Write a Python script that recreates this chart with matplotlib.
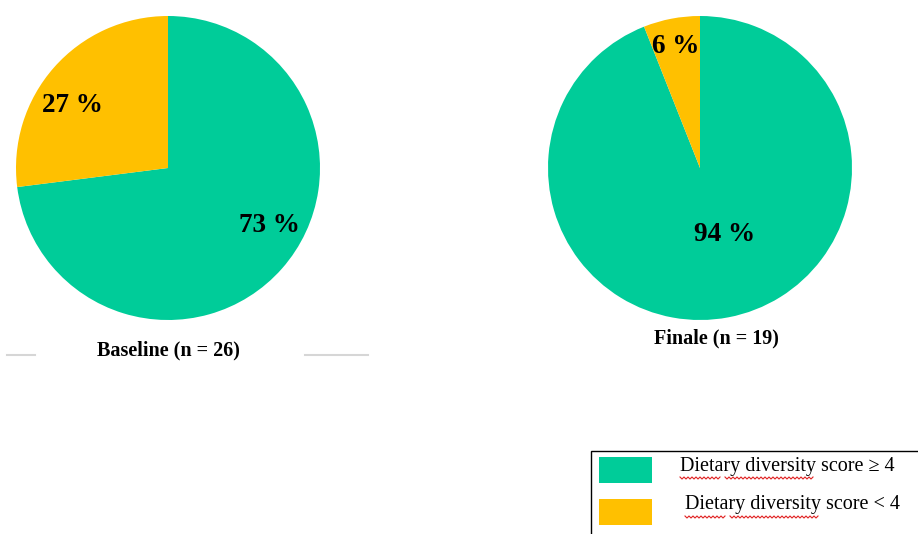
import matplotlib.pyplot as plt
from matplotlib.patches import Rectangle
from matplotlib.lines import Line2D
import numpy as np

# data
categories = ["Dietary diversity score \u2265 4", "Dietary diversity score < 4"]
baseline = [73, 27]
finale = [94, 6]
titles = ["Baseline (n = 26)", "Finale (n = 19)"]
colors = ["#00CC99", "#FFC000"]

W, H = 918, 534
fig = plt.figure(figsize=(W / 100, H / 100), dpi=100)
plt.rcParams['font.family'] = ['Liberation Serif', 'DejaVu Serif']


def box(x0, y0, w, h):
    # pixel box (top-left origin) -> figure fraction
    return [x0 / W, 1 - (y0 + h) / H, w / W, h / H]


def fx(x):
    return x / W


def fy(y):
    return 1 - y / H


def pie(rect, values, label_pos):
    ax = fig.add_axes(rect)
    ax.pie(values, colors=colors, startangle=90, counterclock=False,
           radius=1, wedgeprops=dict(linewidth=0))
    ax.set_xlim(-1, 1)
    ax.set_ylim(-1, 1)
    ax.set_aspect('equal')
    ax.axis('off')
    for v, (x, y) in zip(values, label_pos):
        ax.text(x, y, f"{v} %", ha='center', va='center', fontsize=19.5,
                fontweight='bold', color='black')
    return ax


pie(box(16, 16, 304, 304), baseline, [(0.67, -0.375), (-0.63, 0.41)])
pie(box(548, 16, 304, 304), finale, [(0.16, -0.44), (-0.16, 0.80)])

fig.text(fx(168), fy(350), titles[0], ha='center', va='center',
         fontsize=14.5, fontweight='bold')
fig.text(fx(716), fy(338), titles[1], ha='center', va='center',
         fontsize=14.5, fontweight='bold')

# faint lines next to baseline title
for x0, x1 in [(7, 35), (305, 368)]:
    fig.add_artist(Line2D([fx(x0), fx(x1)], [fy(355), fy(355)],
                          color='#d6d6d6', lw=1.5))

# legend box
fig.add_artist(Rectangle((fx(591), fy(560)), fx(400), fy(451) - fy(560),
                         transform=fig.transFigure, facecolor='none',
                         edgecolor='black', lw=1.0))
sw_y = [457, 499]
txt = [(680, 467), (685, 505)]
for c, lab, sy, (tx, ty) in zip(colors, categories, sw_y, txt):
    fig.add_artist(Rectangle((fx(599), fy(sy + 26)), fx(53), fy(sy) - fy(sy + 26),
                             transform=fig.transFigure, facecolor=c,
                             edgecolor='none'))
    fig.text(fx(tx), fy(ty), lab, ha='left', va='center', fontsize=14.5)

# spell-check squiggles under "Dietary" and "diversity"
for segs, yy in [([(680, 720), (725, 814)], 478), ([(685, 725), (730, 819)], 517)]:
    for a, b in segs:
        xs = np.arange(a, b + 1, 2.0)
        ys = yy + np.where(np.arange(len(xs)) % 2 == 0, -1, 1)
        fig.add_artist(Line2D(fx(xs), fy(ys), color='#e02020', lw=0.8))

fig.savefig("out.png", dpi=100, facecolor='white')
